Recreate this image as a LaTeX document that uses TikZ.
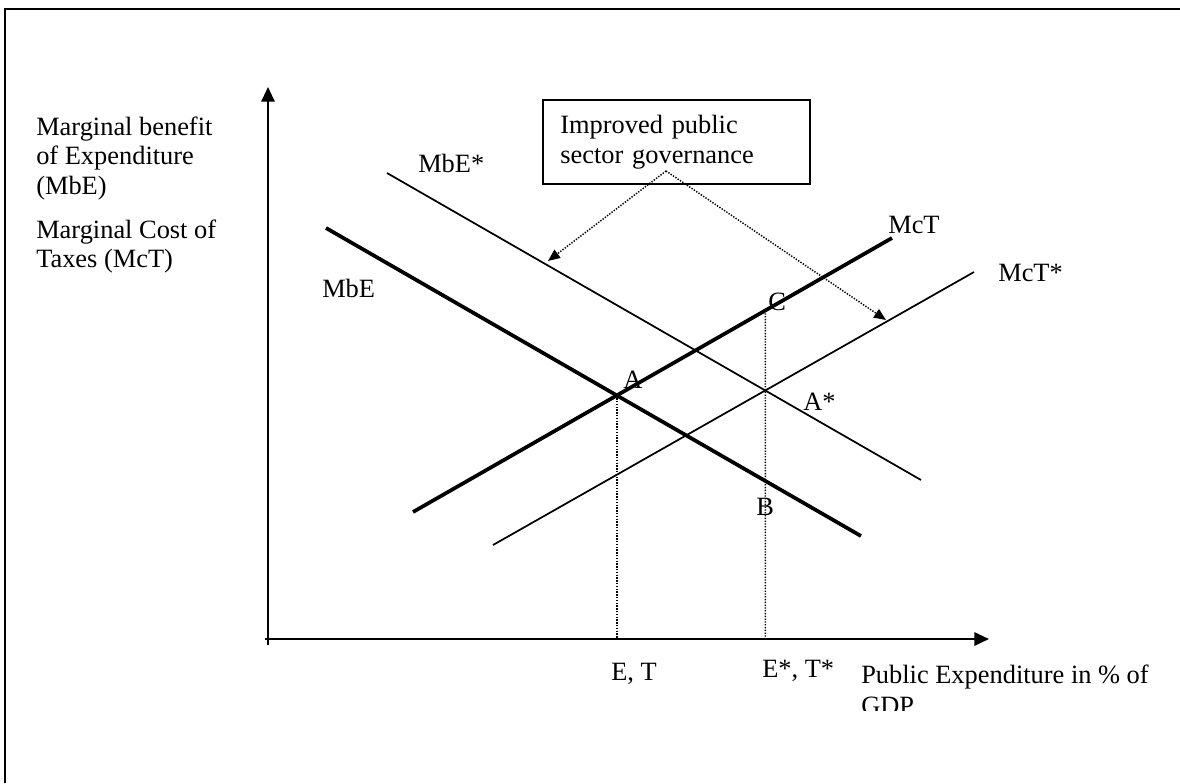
\documentclass[tikz,border=0pt]{standalone}
\usepackage{fontspec}
\setmainfont{Liberation Serif}
\usetikzlibrary{arrows.meta}
\begin{document}
\begin{tikzpicture}[x=0.75pt,y=-0.75pt,
  lbl/.style={font=\fontsize{19.8}{22.1}\selectfont, inner sep=0pt, anchor=base west},
  framepen/.style={line width=1.6pt},
  axispen/.style={line width=1.5pt,-{Triangle[length=11pt,width=10pt]}},
  thickcurve/.style={line width=2.8pt},
  thincurve/.style={line width=1.3pt},
  guide/.style={line width=1.1pt, dash pattern=on 1pt off 1.1pt},
  hint/.style={guide,-{Triangle[length=9pt,width=7.5pt]}},
  infobox/.style={draw, line width=1.5pt, font=\fontsize{19.8}{22.1}\selectfont,
    align=left, text width=174pt, inner xsep=12.75pt, inner ysep=0pt,
    minimum width=200pt, minimum height=63pt, anchor=north west}
]
\useasboundingbox (0,0) rectangle (1180,783);
% outer frame (cropped)
\draw[framepen] (5,783) -- (5,9) -- (1180,9);

% axes
\coordinate (O) at (268,639);
\coordinate (ytop) at (268,87);
\coordinate (ybot) at (268,645);
\coordinate (xleft) at (265,639);
\coordinate (xright) at (989,639);
\draw[axispen] (ybot) -- (ytop);
\draw[axispen] (xleft) -- (xright);

% curves
\coordinate (mbe1) at (326,228);  \coordinate (mbe2) at (861,536);
\coordinate (mbes1) at (387,173); \coordinate (mbes2) at (921,480);
\coordinate (mct1) at (413,512);  \coordinate (mct2) at (892,238);
\coordinate (mcts1) at (493,545); \coordinate (mcts2) at (974,272);
\draw[thickcurve] (mbe1) -- (mbe2);
\draw[thickcurve] (mct1) -- (mct2);
\draw[thincurve] (mbes1) -- (mbes2);
\draw[thincurve] (mcts1) -- (mcts2);

% equilibrium points
\coordinate (A) at (intersection of mbe1--mbe2 and mct1--mct2);
\coordinate (As) at (intersection of mbes1--mbes2 and mcts1--mcts2);
\coordinate (Aax) at (A |- O);
\coordinate (Asax) at (As |- O);
\coordinate (C) at (intersection of mct1--mct2 and As--Asax);
\draw[guide] (A) -- (Aax);
\draw[guide] (C) -- (Asax);

% box and hint arrows
\node[infobox] (box) at (542,99) {Improved public\\sector governance};
\coordinate (hintsrc) at (666,171);
\coordinate (hintL) at (548,261);
\coordinate (hintR) at (886,320);
\draw[hint] (hintsrc) -- (hintL);
\draw[hint] (hintsrc) -- (hintR);

% axis labels
\node[lbl] (yl1) at (36,135) {Marginal benefit};
\node[lbl] (yl2) at (36,164.5) {of Expenditure};
\node[lbl] (yl3) at (36,194) {(MbE)};
\node[lbl] (yl4) at (36,238) {Marginal Cost of};
\node[lbl] (yl5) at (36,267.5) {Taxes (McT)};

% curve labels
\node[lbl] (lmbes) at (418,172) {MbE*};
\node[lbl] (lmbe) at (322,297) {MbE};
\node[lbl] (lmct) at (888,233) {McT};
\node[lbl] (lmcts) at (998,281) {McT*};

% point labels
\node[lbl] (lA) at (623,388) {A};
\node[lbl] (lAs) at (803,410) {A*};
\node[lbl] (lB) at (756,515) {B};
\node[lbl] (lC) at (768,310) {C};

% x-axis labels
\node[lbl] (lET) at (611,680) {E, T};
\node[lbl] (lETs) at (762,677) {E*, T*};
\node[lbl] (lx1) at (861,683) {Public Expenditure in \% of};
\begin{scope}
\clip (840,690) rectangle (1180,710);
\node[lbl] (lx2) at (861,714) {GDP};
\end{scope}
\end{tikzpicture}
\end{document}
